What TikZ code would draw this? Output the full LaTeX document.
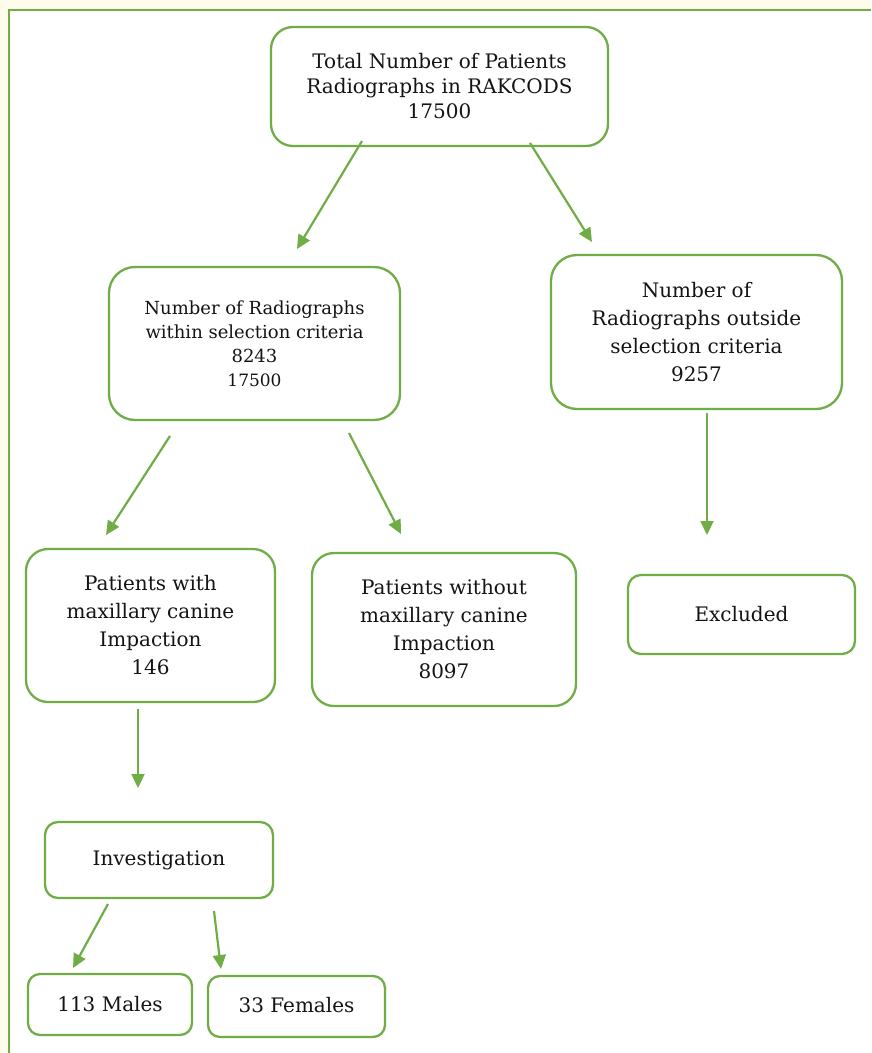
\documentclass[tikz,border=0pt]{standalone}
\usepackage{fontspec}
\setmainfont{DejaVu Serif}
\usetikzlibrary{arrows.meta}
\definecolor{boxgreen}{RGB}{112,173,71}
\definecolor{cream}{RGB}{255,252,236}
\definecolor{txt}{RGB}{20,20,20}
\tikzset{
  box/.style={draw=boxgreen, line width=2.3pt, rounded corners=22pt, fill=white,
    inner sep=0pt, align=center, text=txt, font=\fontsize{20}{28}\selectfont},
  smallbox/.style={box, rounded corners=13pt},
  arr/.style={draw=boxgreen, line width=2.2pt, -{Triangle[length=14pt,width=13pt]}},
  frame/.style={draw=boxgreen, line width=2.4pt}
}
\begin{document}
\begin{tikzpicture}[x=1pt,y=-1pt]
\useasboundingbox (0,0) rectangle (871,1053);
\fill[cream] (0,0) rectangle (871,1053);
\fill[white] (9,10) rectangle (871,1053);
\draw[frame] (9,1053) -- (9,10) -- (871,10);

\node[box, minimum width=337pt, minimum height=119pt, font=\fontsize{20}{25}\selectfont] (top) at (439.5,86.5)
  {Total Number of Patients\\Radiographs in RAKCODS\\17500};
\node[box, minimum width=291pt, minimum height=153pt, rounded corners=26pt, font=\fontsize{18}{24}\selectfont] (within) at (254.5,343.5)
  {Number of Radiographs\\within selection criteria\\8243\\{\fontsize{17}{24}\selectfont 17500}};
\node[box, minimum width=291pt, minimum height=154pt, rounded corners=26pt] (outside) at (696.5,332)
  {Number of\\Radiographs outside\\selection criteria\\9257};
\node[box, minimum width=249pt, minimum height=153pt] (with) at (150.5,625.5)
  {Patients with\\maxillary canine\\Impaction\\146};
\node[box, minimum width=264pt, minimum height=153pt] (without) at (444,629.5)
  {Patients without\\maxillary canine\\Impaction\\8097};
\node[smallbox, minimum width=227pt, minimum height=79pt] (excl) at (741.5,614.5) {Excluded};
\node[smallbox, minimum width=228pt, minimum height=76pt] (inv) at (159,860) {Investigation};
\node[smallbox, minimum width=164pt, minimum height=61pt, rounded corners=12pt] (males) at (110,1004.5) {113 Males};
\node[smallbox, minimum width=177pt, minimum height=61pt, rounded corners=12pt] (females) at (296.5,1006.5) {\raisebox{4pt}{33 Females}};

\coordinate (a1s) at (362,141); \coordinate (a1e) at (297,249);
\coordinate (a2s) at (530,143); \coordinate (a2e) at (592,242);
\coordinate (a3s) at (170,436); \coordinate (a3e) at (106,535);
\coordinate (a4s) at (349,433); \coordinate (a4e) at (401,534);
\coordinate (a5s) at (707,413); \coordinate (a5e) at (707,535);
\coordinate (a6s) at (138,709); \coordinate (a6e) at (138,788);
\coordinate (a7s) at (108,904); \coordinate (a7e) at (73,968);
\coordinate (a8s) at (214,911); \coordinate (a8e) at (221,969);

\draw[arr] (a1s) -- (a1e);
\draw[arr] (a2s) -- (a2e);
\draw[arr] (a3s) -- (a3e);
\draw[arr] (a4s) -- (a4e);
\draw[arr] (a5s) -- (a5e);
\draw[arr] (a6s) -- (a6e);
\draw[arr] (a7s) -- (a7e);
\draw[arr] (a8s) -- (a8e);
\end{tikzpicture}
\end{document}
